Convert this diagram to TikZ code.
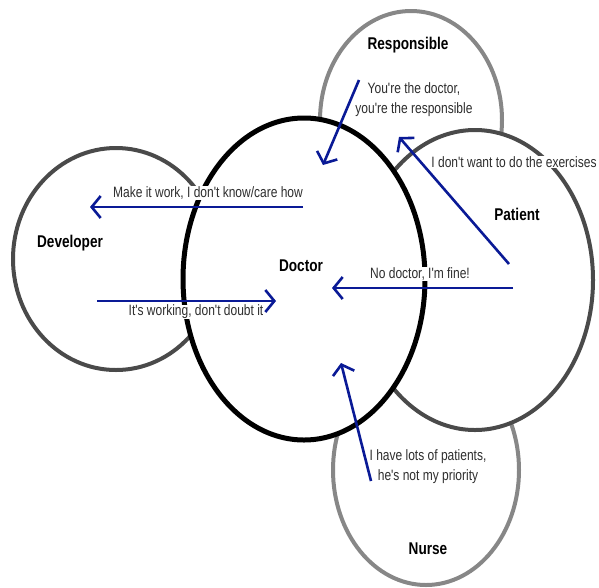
\documentclass[tikz,border=0pt]{standalone}
\usepackage{fontspec}
\setmainfont{Liberation Sans}
\newfontfamily\narrowsans[FakeStretch=0.8]{Liberation Sans}
\usetikzlibrary{shapes.geometric,arrows.meta}
\definecolor{arrowblue}{HTML}{0A1A96}
\definecolor{darkring}{HTML}{4A4A4A}
\definecolor{lightring}{HTML}{878787}
\definecolor{msgtext}{HTML}{2E2E2E}
\begin{document}
\begin{tikzpicture}[x=1pt,y=-1pt,
  ring/.style={ellipse,fill=white,line width=4pt,inner sep=0pt},
  rolename/.style={font=\narrowsans\bfseries\fontsize{17}{19}\selectfont},
  msg/.style={font=\narrowsans\fontsize{15}{20}\selectfont,text=msgtext,align=center,fill=white,inner xsep=1pt,inner ysep=0.5pt},
  talk/.style={draw=arrowblue,line width=2.6pt,-{Straight Barb[length=9pt,width=22pt]}}]
\useasboundingbox (0,0) rectangle (599,587);
% rings, back to front
\node[ring,draw=darkring,minimum width=206pt,minimum height=222pt] (dev) at (116,259) {};
\node[ring,draw=lightring,minimum width=182pt,minimum height=218pt] (resp) at (411,120) {};
\node[ring,draw=lightring,minimum width=186pt,minimum height=230pt] (nurse) at (426,470) {};
\node[ring,draw=darkring,minimum width=236pt,minimum height=300pt] (pat) at (475,280) {};
\node[ring,draw=black,line width=5pt,minimum width=242pt,minimum height=322pt] (doc) at (304,279) {};
% role names
\node[rolename] (ldoc) at (301,266) {Doctor};
\node[rolename] (ldev) at (70,243) {Developer};
\node[rolename] (lresp) at (408,45) {Responsible};
\node[rolename] (lpat) at (517,214) {Patient};
\node[rolename] (lnurse) at (428,549) {Nurse};
% messages
\node[msg] (m1) at (208,193) {Make it work, I don't know/care how};
\node[msg] (m2) at (196,312) {It's working, don't doubt it};
\node[msg] (m3) at (420,274) {No doctor, I'm fine!};
\node[msg] (m4) at (514,162) {I don't want to do the exercises};
\node[msg] (m5) at (414,100) {You're the doctor,\\you're the responsible};
\node[msg] (m6) at (428,467) {I have lots of patients,\\he's not my priority};
% arrow end points
\coordinate (a1s) at (303,207); \coordinate (a1e) at (90,207);
\coordinate (a2s) at (97,301);  \coordinate (a2e) at (276,301);
\coordinate (a3s) at (513,288); \coordinate (a3e) at (332,288);
\coordinate (a4s) at (509,264); \coordinate (a4e) at (399,137);
\coordinate (a5s) at (359,80);  \coordinate (a5e) at (323,165);
\coordinate (a6s) at (371,481); \coordinate (a6e) at (341,363);
\draw[talk] (a1s) -- (a1e);
\draw[talk] (a2s) -- (a2e);
\draw[talk] (a3s) -- (a3e);
\draw[talk] (a4s) -- (a4e);
\draw[talk] (a5s) -- (a5e);
\draw[talk] (a6s) -- (a6e);
\end{tikzpicture}
\end{document}
